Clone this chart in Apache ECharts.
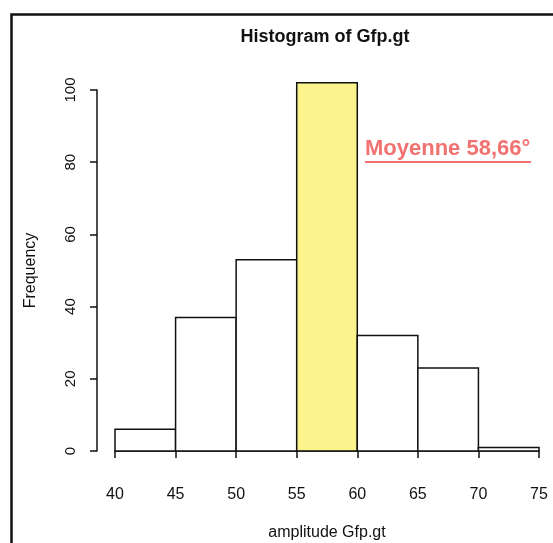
<!DOCTYPE html>
<html>
<head>
<meta charset="utf-8">
<script src="https://cdn.jsdelivr.net/npm/echarts@6/dist/echarts.min.js"></script>
<style>
  html, body { margin: 0; padding: 0; background: #fff; }
  #chart { width: 553px; height: 543px; }
</style>
</head>
<body>
<div id="chart"></div>
<script>
// bins of the histogram (left edge, right edge) and counts
const binStarts = [40, 45, 50, 55, 60, 65, 70];
const binEnds = [45, 50, 55, 60, 65, 70, 75];
const counts = [6, 37, 53, 102, 32, 23, 1];
const highlightBin = 55; // bin holding the mean, drawn in yellow
const meanLabel = 'Moyenne 58,66°';

const chart = echarts.init(document.getElementById('chart'));

const data = binStarts.map((s, i) => [s, binEnds[i], counts[i], s === highlightBin ? 1 : 0]);

const option = {
  backgroundColor: '#fff',
  animation: false,
  title: {
    text: 'Histogram of Gfp.gt',
    left: 320,
    top: 23,
    textAlign: 'center',
    textStyle: { fontFamily: 'Liberation Sans', fontSize: 18, fontWeight: 'bold', color: '#111' }
  },
  grid: { left: 115, right: 14, top: 90, bottom: 92, outerBoundsMode: 'none', containLabel: false },
  xAxis: {
    type: 'value',
    min: 40,
    max: 75,
    interval: 5,
    offset: 17,
    name: 'amplitude Gfp.gt',
    nameLocation: 'middle',
    nameGap: 57,
    nameTextStyle: { fontFamily: 'Liberation Sans', fontSize: 16, color: '#111' },
    splitLine: { show: false },
    axisLine: { lineStyle: { color: '#111', width: 1.5 } },
    axisTick: { length: 7, lineStyle: { color: '#111', width: 1.5 } },
    axisLabel: { margin: 19, fontFamily: 'Liberation Sans', fontSize: 16, color: '#111' }
  },
  yAxis: {
    type: 'value',
    min: 0,
    max: 100,
    interval: 20,
    offset: 18,
    name: 'Frequency',
    nameLocation: 'middle',
    nameGap: 58,
    nameTextStyle: { fontFamily: 'Liberation Sans', fontSize: 16, color: '#111' },
    splitLine: { show: false },
    axisLine: { show: true, lineStyle: { color: '#111', width: 1.5 } },
    axisTick: { show: true, length: 7, lineStyle: { color: '#111', width: 1.5 } },
    axisLabel: { rotate: 90, margin: 19, fontFamily: 'Liberation Sans', fontSize: 15, color: '#111' }
  },
  series: [{
    type: 'custom',
    clip: false,
    data: data,
    encode: { x: [0, 1], y: 2 },
    renderItem: function (params, api) {
      const top = api.coord([api.value(0), api.value(2)]);
      const bottom = api.coord([api.value(1), 0]);
      return {
        type: 'rect',
        shape: { x: top[0], y: top[1], width: bottom[0] - top[0], height: bottom[1] - top[1] },
        style: { fill: api.value(3) ? '#fbf48c' : '#ffffff', stroke: '#111', lineWidth: 1.5 }
      };
    }
  }],
  graphic: [
    {
      type: 'rect',
      left: 9, top: 12,
      shape: { width: 600, height: 600 },
      style: { fill: 'none', stroke: '#111', lineWidth: 2.5 },
      silent: true
    },
    {
      type: 'text',
      left: 365, top: 138,
      style: { text: meanLabel, fill: '#f27272', font: 'bold 22px "Liberation Sans"' }
    },
    {
      type: 'line',
      shape: { x1: 365, y1: 162, x2: 531, y2: 162 },
      style: { stroke: '#f27272', lineWidth: 2 }
    }
  ]
};

chart.setOption(option);
</script>
</body>
</html>
